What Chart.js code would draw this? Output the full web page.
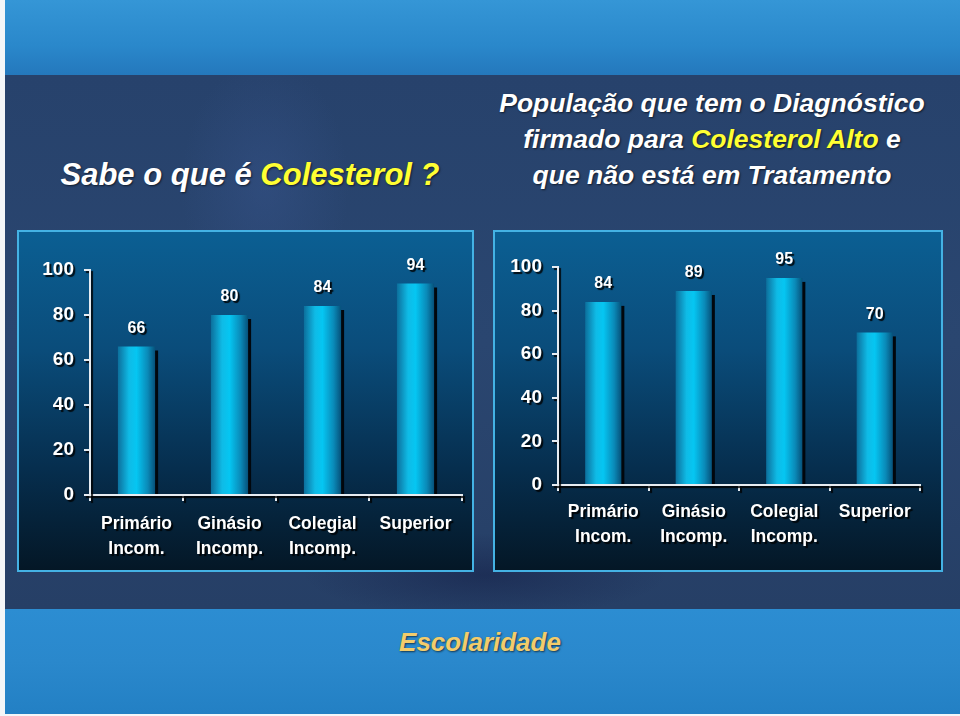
<!DOCTYPE html>
<html lang="pt-BR">
<head>
<meta charset="utf-8">
<title>Colesterol - Escolaridade</title>
<script src="https://cdn.jsdelivr.net/npm/chart.js@4.4.1/dist/chart.umd.min.js"></script>
<style>
  html, body { margin: 0; padding: 0; }
  body { width: 960px; height: 716px; position: relative; overflow: hidden; background: #f4f6f8;
         font-family: 'Liberation Sans', Arial, sans-serif; }
  .faixa { position: absolute; left: 5px; width: 955px; }
  #topo { top: 0; height: 75px;
          background: linear-gradient(180deg, #3596d6 0%, #2a88cb 60%, #2478bc 100%); }
  #meio { top: 75px; height: 534px;
          background:
            radial-gradient(ellipse 120px 180px at 260px 110px, rgba(60,90,150,0.35), rgba(0,0,0,0) 70%),
            radial-gradient(ellipse 260px 60px at 480px 500px, rgba(20,30,70,0.5), rgba(0,0,0,0) 70%),
            linear-gradient(180deg, #27426c 0%, #2a4670 50%, #263f66 100%); }
  #base { top: 609px; height: 105px;
          background: linear-gradient(180deg, #2c8dd2 0%, #2a88cc 50%, #2380c4 100%); }
  .caixa { position: absolute; top: 230px; height: 338px; border: 2px solid #44b2e4;
           background: linear-gradient(180deg, #0b5f93 0%, #0a4c7a 35%, #062e4e 70%, #041726 100%); }
  #caixaEsq { left: 17px; width: 453px; }
  #caixaDir { left: 493px; width: 446px; }
  canvas { position: absolute; top: 230px; }
  #graficoEsq { left: 17px; }
  #graficoDir { left: 493px; }
  .titulo { position: absolute; color: #ffffff; font-style: italic; font-weight: bold;
            text-shadow: 1px 1px 2px rgba(0,0,0,0.6); white-space: nowrap; }
  .amarelo { color: #ffff33; }
  #titEsq { left: 0; width: 500px; text-align: center; top: 156px; font-size: 31px; line-height: 38px; }
  #titDir { left: 462px; width: 500px; text-align: center; top: 85px; font-size: 26.5px; line-height: 36px; }
  #rodape { left: 0; width: 960px; text-align: center; top: 626px; font-size: 26px; line-height: 32px;
            color: #f2cc6c; }
</style>
</head>
<body>
<div class="faixa" id="topo"></div>
<div class="faixa" id="meio"></div>
<div class="faixa" id="base"></div>

<div class="titulo" id="titEsq">Sabe o que é <span class="amarelo">Colesterol ?</span></div>
<div class="titulo" id="titDir">População que tem o Diagnóstico<br>firmado para <span class="amarelo">Colesterol Alto</span> e<br>que não está em Tratamento</div>

<div class="caixa" id="caixaEsq"></div>
<div class="caixa" id="caixaDir"></div>
<canvas id="graficoEsq" width="457" height="342"></canvas>
<canvas id="graficoDir" width="450" height="342"></canvas>

<div class="titulo" id="rodape">Escolaridade</div>

<script>
// Dados
const categorias = [['Primário', 'Incom.'], ['Ginásio', 'Incomp.'], ['Colegial', 'Incomp.'], ['Superior']];
const valoresDiagnostico = [66, 80, 84, 94];
const valoresSemTratamento = [84, 89, 95, 70];
const ticksY = [0, 20, 40, 60, 80, 100];

const larguraBarra = 0.4;

// Gradiente horizontal de cada barra
function corBarra(c) {
    const chart = c.chart;
    const area = chart.chartArea;
    if (!area) return '#10c4f0';
    const cx = chart.scales.x.getPixelForValue(c.dataIndex);
    const w = (area.right - area.left) / categorias.length * larguraBarra;
    const g = chart.ctx.createLinearGradient(cx - w / 2, 0, cx + w / 2, 0);
    g.addColorStop(0, '#0c6f9c');
    g.addColorStop(0.3, '#0fbbe6');
    g.addColorStop(0.5, '#05c6f2');
    g.addColorStop(0.8, '#0a8ab8');
    g.addColorStop(1, '#06517a');
    return g;
}

// Sombra dos textos e das barras, rótulos de valor
const enfeites = {
    id: 'enfeites',
    beforeDraw(chart) {
        const ctx = chart.ctx;
        ctx.shadowColor = 'rgba(0,0,0,0.85)';
        ctx.shadowOffsetX = 2;
        ctx.shadowOffsetY = 2;
        ctx.shadowBlur = 1;
    },
    beforeDatasetsDraw(chart) {
        const ctx = chart.ctx;
        ctx.shadowColor = 'rgba(0,0,0,0)';
        ctx.shadowOffsetX = 0;
        ctx.shadowOffsetY = 0;
        ctx.shadowBlur = 0;
        ctx.save();
        ctx.fillStyle = '#01070d';
        chart.getDatasetMeta(0).data.forEach(bar => {
            ctx.fillRect(bar.x + bar.width / 2 - 1, bar.y + 4, 4, bar.base - bar.y - 4);
        });
        ctx.restore();
    },
    afterDatasetsDraw(chart) {
        const ctx = chart.ctx;
        const valores = chart.data.datasets[0].data;
        ctx.save();
        ctx.font = "bold 16px 'Liberation Sans', Arial";
        ctx.fillStyle = '#ffffff';
        ctx.textAlign = 'center';
        ctx.textBaseline = 'middle';
        ctx.shadowColor = 'rgba(0,0,0,0.9)';
        ctx.shadowOffsetX = 2;
        ctx.shadowOffsetY = 2;
        ctx.shadowBlur = 1;
        chart.getDatasetMeta(0).data.forEach((bar, i) => {
            ctx.fillText(String(valores[i]), bar.x, bar.y - 18);
        });
        ctx.restore();
    }
};

function desenharGrafico(id, valores, m) {
    const ctx = document.getElementById(id).getContext('2d');
    return new Chart(ctx, {
        type: 'bar',
        data: {
            labels: categorias,
            datasets: [{
                data: valores,
                backgroundColor: corBarra,
                borderWidth: 0,
                barPercentage: larguraBarra,
                categoryPercentage: 1
            }]
        },
        plugins: [enfeites],
        options: {
            responsive: false,
            animation: false,
            devicePixelRatio: 1,
            layout: { padding: { top: m.topo, right: m.direita, left: 0, bottom: 0 } },
            plugins: { legend: { display: false }, tooltip: { enabled: false } },
            scales: {
                x: {
                    offset: true,
                    grid: { display: true, drawOnChartArea: false, offset: true, tickLength: 6,
                            color: '#e6ecf2', lineWidth: 2 },
                    border: { display: true, color: '#e6ecf2', width: 2 },
                    ticks: {
                        color: '#ffffff', padding: m.padX, maxRotation: 0, autoSkip: false,
                        font: { family: "'Liberation Sans', Arial", weight: 'bold',
                                size: 17.5, lineHeight: 1.43 }
                    },
                    afterFit(s) { s.height = m.altX; }
                },
                y: {
                    min: 0, max: 100,
                    afterBuildTicks(s) { s.ticks = ticksY.map(v => ({ value: v })); },
                    grid: { display: true, drawOnChartArea: false, tickLength: 6,
                            color: '#e6ecf2', lineWidth: 2 },
                    border: { display: true, color: '#e6ecf2', width: 2 },
                    ticks: {
                        color: '#ffffff', padding: 10,
                        font: { family: "'Liberation Sans', Arial", weight: 'bold', size: 19 }
                    },
                    afterFit(s) { s.width = m.largY; }
                }
            }
        }
    });
}

desenharGrafico('graficoEsq', valoresDiagnostico, { topo: 40, direita: 12, altX: 77, largY: 73, padX: 11 });
desenharGrafico('graficoDir', valoresSemTratamento, { topo: 37, direita: 23, altX: 87, largY: 65, padX: 9 });
</script>
</body>
</html>
